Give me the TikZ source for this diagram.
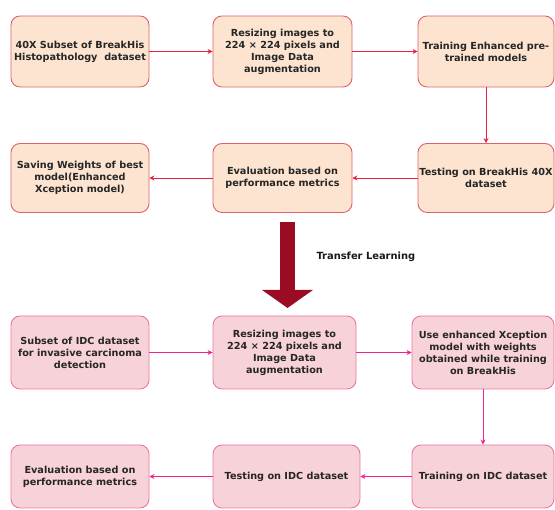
\documentclass[tikz,border=0pt]{standalone}
\usepackage{fontspec}
\setmainfont{DejaVu Sans}
\usepackage{xcolor}
\usetikzlibrary{arrows.meta}
\definecolor{peachfill}{HTML}{FCE4D0}
\definecolor{peachline}{HTML}{E0606C}
\definecolor{pinkfill}{HTML}{F7D2D8}
\definecolor{pinkline}{HTML}{E878A4}
\definecolor{redarrow}{HTML}{E2243E}
\definecolor{pinkarrow}{HTML}{F0248E}
\definecolor{bigarrow}{HTML}{9C0B24}

\begin{document}
\begin{tikzpicture}[x=1pt, y=1pt,
    box/.style={rectangle, draw, line width=0.9pt, rounded corners=9pt, inner sep=0.5pt, align=center, font=\fontsize{9.7}{12}\selectfont\bfseries, text=black!85},
    topbox/.style={box, fill=peachfill, draw=peachline},
    botbox/.style={box, fill=pinkfill, draw=pinkline},
    toparrow/.style={-{Stealth[length=5pt, width=5pt]}, redarrow, line width=0.8pt},
    botarrow/.style={-{Stealth[length=5pt, width=5pt]}, pinkarrow, line width=0.8pt}
]
    \useasboundingbox (0,0) rectangle (555,510);

    % Nodes (BreakHis part)
    \node[topbox, minimum width=138pt, minimum height=71pt] (subset) at (80,458.5) {40X Subset of BreakHis\\Histopathology\ \ dataset};
    \node[topbox, minimum width=139pt, minimum height=71pt] (resize) at (282.5,458.5) {Resizing images to\\224 × 224 pixels and\\Image Data\\augmentation};
    \node[topbox, minimum width=136pt, minimum height=71pt] (train) at (486,458.5) {Training Enhanced pre-\\trained models};
    \node[topbox, minimum width=136pt, minimum height=69pt] (test) at (486,332) {Testing on BreakHis 40X\\dataset};
    \node[topbox, minimum width=139pt, minimum height=69pt] (eval) at (282.5,332) {Evaluation based on\\performance metrics};
    \node[topbox, minimum width=138pt, minimum height=69pt] (save) at (80,332) {Saving Weights of best\\model(Enhanced\\Xception model)};

    % Nodes (IDC part)
    \node[botbox, minimum width=138pt, minimum height=73pt] (idc) at (80,157.5) {Subset of IDC dataset\\for invasive carcinoma\\detection};
    \node[botbox, minimum width=143pt, minimum height=73pt] (idcresize) at (284.5,157.5) {Resizing images to\\224 × 224 pixels and\\Image Data\\augmentation};
    \node[botbox, minimum width=142pt, minimum height=73pt] (xception) at (483,157.5) {Use enhanced Xception\\model with weights\\obtained while training\\on BreakHis};
    \node[botbox, minimum width=142pt, minimum height=63pt] (idctrain) at (483,33.5) {Training on IDC dataset};
    \node[botbox, minimum width=147pt, minimum height=63pt] (idctest) at (286.5,33.5) {Testing on IDC dataset};
    \node[botbox, minimum width=138pt, minimum height=63pt] (idceval) at (80,33.5) {Evaluation based on\\performance metrics};

    % Arrows
    \draw[toparrow] (subset) -- (resize);
    \draw[toparrow] (resize) -- (train);
    \draw[toparrow] (train) -- (test);
    \draw[toparrow] (test) -- (eval);
    \draw[toparrow] (eval) -- (save);
    \draw[botarrow] (idc) -- (idcresize);
    \draw[botarrow] (idcresize) -- (xception);
    \draw[botarrow] (xception) -- (idctrain);
    \draw[botarrow] (idctrain) -- (idctest);
    \draw[botarrow] (idctest) -- (idceval);

    % Transfer learning arrow
    \coordinate (tlstart) at (287.5,288);
    \coordinate (tlend) at (287.5,202);
    \draw[bigarrow, line width=15pt, -{Triangle[length=18pt, width=50pt]}] (tlstart) -- (tlend);
    \node[font=\fontsize{9.9}{12}\selectfont\bfseries, anchor=west, text=black!90] (tllabel) at (313,253) {Transfer Learning};
\end{tikzpicture}
\end{document}
